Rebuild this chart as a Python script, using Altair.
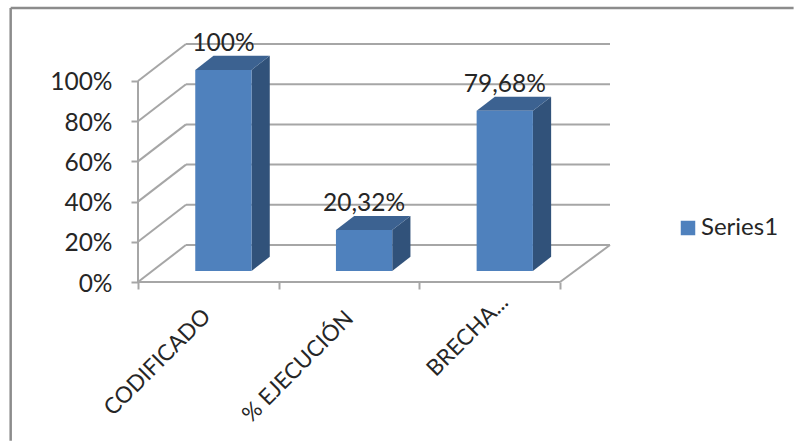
import altair as alt
import pandas as pd

categories = ["CODIFICADO", "% EJECUCIÓN", "BRECHA..."]
values = [100, 20.32, 79.68]
value_labels = ["100%", "20,32%", "79,68%"]
y_ticks = [0, 20, 40, 60, 80, 100]
series_name = "Series1"

# Oblique projection: moving back through the box shifts a point right and up.
DEPTH_X = 0.341
DEPTH_Y = 18.4
X_MAX = 3.355
Y_MAX = 118.4

BAR_LEFT = 0.407
BAR_WIDTH = 0.40
BAR_FRONT = 0.30
BAR_BACK = 0.68

GRID = "#a6a6a6"
FRAME = "#8c8c8c"
FRONT = "#4f81bd"
SIDE = "#31527a"
TOP = "#3c6291"
FONT = "Lato"
TEXT = "#262626"

x_scale = alt.Scale(domain=[0, X_MAX], range=[0, 472], nice=False, zero=False)
y_scale = alt.Scale(domain=[0, Y_MAX], range=[238, 0], nice=False, zero=False)


def qx(field, **kw):
    return alt.X(field, type="quantitative", scale=x_scale, **kw)


def qy(field, **kw):
    return alt.Y(field, type="quantitative", scale=y_scale, **kw)


# Box walls: back wall gridlines and the diagonal lines on the left wall.
walls = pd.DataFrame({"v": y_ticks})
walls["x0"] = 0.0
walls["y0"] = walls["v"]
walls["x1"] = DEPTH_X
walls["y1"] = walls["v"] + DEPTH_Y
walls["x2"] = X_MAX
back_grid = alt.Chart(walls).mark_rule(color=GRID, strokeWidth=2).encode(
    x=qx("x1"), x2="x2:Q", y=qy("y1")
)
side_grid = alt.Chart(walls).mark_rule(color=GRID, strokeWidth=2).encode(
    x=qx("x0"), x2="x1:Q", y=qy("y0"), y2="y1:Q"
)

# Floor outline and the vertical front edge of the left wall.
edges = pd.DataFrame(
    {
        "x": [0, 3, 0],
        "x2": [3, X_MAX, 0],
        "y": [0, 0, 0],
        "y2": [0, DEPTH_Y, 100],
    }
)
edge_rules = alt.Chart(edges).mark_rule(color=GRID, strokeWidth=2).encode(
    x=qx("x"), x2="x2:Q", y=qy("y"), y2="y2:Q"
)

# Outer frame of the chart, placed outside the data range.
frame = pd.DataFrame(
    {"x": [-0.905, -0.905], "x2": [-0.905, 4.66], "y": [118.4 + 17.9, 118.4 + 17.9], "y2": [-79, 118.4 + 17.9]}
)
frame_rules = alt.Chart(frame).mark_rule(color=FRAME, strokeWidth=2.5).encode(
    x=qx("x"), x2="x2:Q", y=qy("y"), y2="y2:Q"
)

bars = pd.DataFrame({"category": categories, "value": values, "label": value_labels})
bars["series"] = series_name
bars["left"] = [i + BAR_LEFT for i in range(len(bars))]
bars["right"] = bars["left"] + BAR_WIDTH
bars["base"] = BAR_FRONT * DEPTH_Y
bars["top"] = bars["base"] + bars["value"]
bars["shift_x"] = (BAR_BACK - BAR_FRONT) * DEPTH_X
bars["shift_y"] = (BAR_BACK - BAR_FRONT) * DEPTH_Y
bars["center"] = bars["left"] + BAR_WIDTH / 2


def side_face(row):
    return pd.DataFrame(
        {
            "x": [row.right, row.right + row.shift_x],
            "low": [row.base, row.base + row.shift_y],
            "high": [row.top, row.top + row.shift_y],
        }
    )


def top_face(row):
    return pd.DataFrame(
        {
            "y": [row.top, row.top + row.shift_y],
            "start": [row.left, row.left + row.shift_x],
            "end": [row.right, row.right + row.shift_x],
        }
    )


layers = [back_grid, side_grid, edge_rules, frame_rules]

for row in bars.itertuples():
    layers.append(
        alt.Chart(side_face(row))
        .mark_area(color=SIDE)
        .encode(x=qx("x"), y=qy("low"), y2="high:Q")
    )
    layers.append(
        alt.Chart(top_face(row))
        .mark_area(color=TOP, orient="horizontal")
        .encode(y=qy("y"), x=qx("start"), x2="end:Q")
    )

front = alt.Chart(bars).mark_rect().encode(
    x=qx("left"),
    x2="right:Q",
    y=qy("base"),
    y2="top:Q",
    color=alt.Color(
        "series:N",
        scale=alt.Scale(domain=[series_name], range=[FRONT]),
        legend=alt.Legend(
            title=None,
            orient="none",
            legendX=538,
            legendY=172,
            symbolType="square",
            symbolSize=210,
            symbolStrokeWidth=0,
            labelFont=FONT,
            labelFontSize=24,
            labelColor=TEXT,
            labelOffset=1,
        ),
    ),
)
layers.append(front)

value_text = alt.Chart(bars).mark_text(
    font=FONT, fontSize=24.5, color=TEXT, baseline="middle", align="center", dy=-26
).encode(x=qx("center"), y=qy("top"), text="label:N")
layers.append(value_text)

# Slanted category names hang below the horizontal axis.
names = pd.DataFrame({"name": categories})
names["x"] = [0.49, 1.505, 2.605]
names["y"] = [-15.4, -16.4, -8.4]
name_text = alt.Chart(names).mark_text(
    font=FONT, fontSize=22.4, color=TEXT, angle=315, align="right", baseline="middle"
).encode(x=qx("x"), y=qy("y"), text="name:N")
layers.append(name_text)

# Axes drawn by the scales: percentage ticks on the left, category boundaries below.
axes = alt.Chart(pd.DataFrame({"x": [0.0], "y": [0.0]})).mark_point(opacity=0).encode(
    x=qx(
        "x",
        axis=alt.Axis(
            values=[0, 1, 2, 3],
            labels=False,
            title=None,
            domain=False,
            grid=False,
            tickColor=GRID,
            tickWidth=2,
            tickSize=7,
        ),
    ),
    y=qy(
        "y",
        axis=alt.Axis(
            values=y_ticks,
            labelExpr="datum.value + '%'",
            title=None,
            domain=False,
            grid=False,
            tickColor=GRID,
            tickWidth=2,
            tickSize=7,
            labelFont=FONT,
            labelFontSize=24.5,
            labelColor=TEXT,
            labelPadding=19,
            labelOffset=2,
        ),
    ),
)
layers.append(axes)

chart = (
    alt.layer(*layers)
    .properties(
        width=472,
        height=238,
        autosize=alt.AutoSizeParams(type="none"),
        padding={"left": 138, "top": 44, "right": 184, "bottom": 159},
        background="white",
    )
    .configure_view(stroke=None)
)

chart.save("out.html", embed_options={"renderer": "svg", "actions": False})
